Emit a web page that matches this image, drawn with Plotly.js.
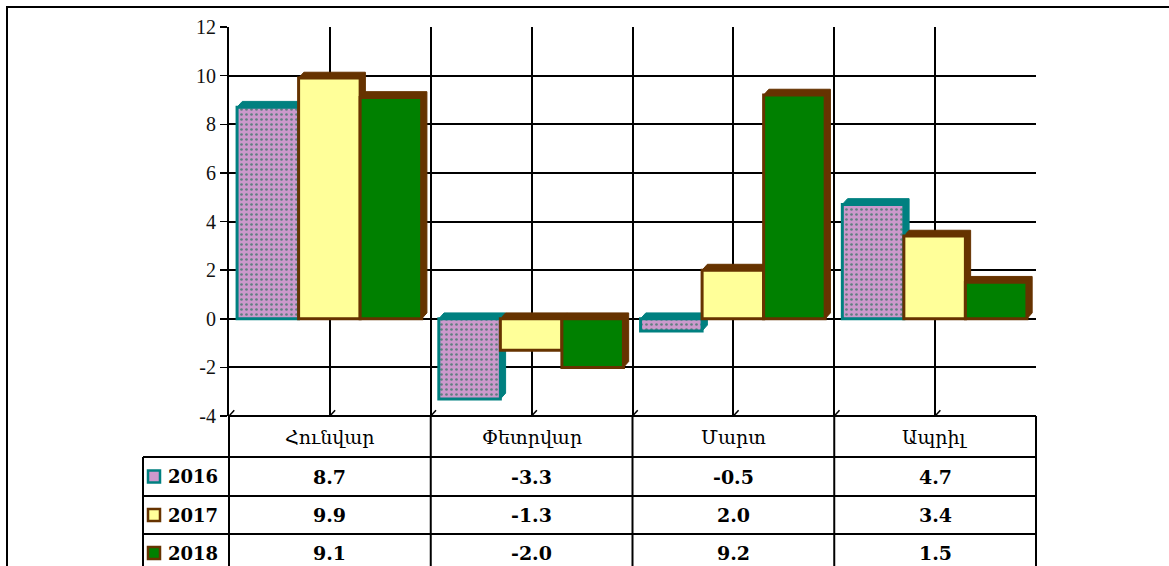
<!DOCTYPE html>
<html>
<head>
<meta charset="utf-8">
<script src="https://cdn.plot.ly/plotly-3.0.1.min.js"></script>
<style>html,body{margin:0;padding:0;background:#fff;}#chart{width:1169px;height:566px;}</style>
</head>
<body>
<div id="chart"></div>
<script>
// ---- data ----
const categories = ["Հունվար", "Փետրվար", "Մարտ", "Ապրիլ"];
const seriesNames = ["2016", "2017", "2018"];
const values2016 = [8.7, -3.3, -0.5, 4.7];
const values2017 = [9.9, -1.3, 2.0, 3.4];
const values2018 = [9.1, -2.0, 9.2, 1.5];
const yTickVals = [-4, -2, 0, 2, 4, 6, 8, 10, 12];
const yTickText = ["-4", "-2", "0", "2", "4", "6", "8", "10", "12"];

// ---- styling / layout ----
const W = 1169, H = 566;
const ML = 229, MR = 133, MT = 27, MB = 150;
const PW = W - ML - MR, PH = H - MT - MB;
const px = (x) => (x - ML) / PW;
const py = (y) => (MT + PH - y) / PH;

const fills = ["#CC99CC", "#FFFF99", "#008000"];
const borders = ["#008080", "#663300", "#663300"];
const allValues = [values2016, values2017, values2018];
const barWidth = 0.305;
const offsets = [-0.46, -0.155, 0.15];
const dx = 0.026, dy = 0.24;
const xs = categories.map((c, i) => i + 0.5);

const traces = [];
// depth faces (drawn beneath front faces)
allValues.forEach((vals, s) => {
  const X = [], Y = [];
  vals.forEach((v, i) => {
    const x0 = xs[i] + offsets[s], x1 = x0 + barWidth;
    const yt = Math.max(v, 0), yb = Math.min(v, 0);
    X.push(x0, x0 + dx, x1 + dx, x1 + dx, x1, x0, x0, null);
    Y.push(yt, yt + dy, yt + dy, yb + dy, yb, yb, yt, null);
  });
  traces.push({
    type: "scatter", mode: "lines", x: X, y: Y, xaxis: "x", yaxis: "y",
    fill: "toself", fillcolor: borders[s],
    line: {color: borders[s], width: 1}, hoverinfo: "skip", showlegend: false
  });
});
// front faces
allValues.forEach((vals, s) => {
  const marker = {color: fills[s], line: {color: borders[s], width: 3}};
  if (s === 0) {
    marker.pattern = {shape: ".", bgcolor: "#CC99CC", fgcolor: "#5F7F80", size: 5, solidity: 0.22, fillmode: "replace"};
  }
  traces.push({
    type: "bar", name: seriesNames[s], x: xs, y: vals, xaxis: "x", yaxis: "y2",
    width: barWidth, offset: offsets[s], marker: marker, showlegend: false
  });
});

const shapes = [];
const annotations = [];
const lineCol = "#000";
// outer frame
shapes.push({type: "rect", xref: "paper", yref: "paper", x0: px(7), x1: px(1200), y0: py(7), y1: py(620),
  line: {color: "#000", width: 2}, fillcolor: "rgba(0,0,0,0)", layer: "above"});
// small floor slashes at gridline bottoms
for (let k = 0; k <= 8; k++) {
  shapes.push({type: "line", xref: "x", yref: "y", x0: k * 0.5, y0: -4, x1: k * 0.5 + dx, y1: -4 + dy,
    line: {color: "#000", width: 1.5}});
}
// table lines
const rowLines = [457, 496, 534];
rowLines.forEach(y => shapes.push({type: "line", xref: "paper", yref: "paper", x0: px(143), x1: 1, y0: py(y), y1: py(y), line: {color: lineCol, width: 2}}));
shapes.push({type: "line", xref: "paper", yref: "paper", x0: 0, x1: 1, y0: 0, y1: 0, line: {color: lineCol, width: 2}});
shapes.push({type: "line", xref: "paper", yref: "paper", x0: px(143), x1: px(143), y0: py(457), y1: py(600), line: {color: lineCol, width: 2}});
for (let i = 0; i <= categories.length; i++) {
  shapes.push({type: "line", xref: "paper", yref: "paper", x0: i / categories.length, x1: i / categories.length, y0: 0, y1: py(600), line: {color: lineCol, width: 2}});
}
// header labels
categories.forEach((c, i) => annotations.push({xref: "x", yref: "paper", x: xs[i], y: py(437), text: c, showarrow: false,
  font: {family: "DejaVu Serif, serif", size: 19, color: "#000"}, xanchor: "center", yanchor: "middle"}));
const rowCenters = [476.5, 515, 553];
allValues.forEach((vals, s) => {
  const yc = py(rowCenters[s]);
  // legend key
  shapes.push({type: "rect", xref: "paper", yref: "paper", x0: px(148), x1: px(160), y0: yc - 6 / PH, y1: yc + 6 / PH,
    fillcolor: fills[s], line: {color: borders[s], width: 2.5}});
  annotations.push({xref: "paper", yref: "paper", x: px(166), y: yc, text: seriesNames[s], showarrow: false,
    font: {family: "DejaVu Serif, serif", size: 18, color: "#000", weight: "bold"}, xanchor: "left", yanchor: "middle"});
  vals.forEach((v, i) => annotations.push({xref: "x", yref: "paper", x: xs[i], y: yc, text: v.toFixed(1), showarrow: false,
    font: {family: "DejaVu Serif, serif", size: 19, color: "#000", weight: "bold"}, xanchor: "center", yanchor: "middle"}));
});

const layout = {
  width: W, height: H,
  margin: {l: ML, r: MR, t: MT, b: MB, pad: 0},
  paper_bgcolor: "#fff", plot_bgcolor: "#fff",
  barmode: "overlay",
  showlegend: false,
  xaxis: {range: [0, 4], tick0: 0, dtick: 0.5, showticklabels: false, ticks: "",
    showgrid: true, gridcolor: "#000", gridwidth: 2, zeroline: false, showline: false, fixedrange: true},
  yaxis: {range: [-4, 12], tickvals: yTickVals, ticktext: yTickText, ticks: "outside", ticklen: 7, tickwidth: 1.5, tickcolor: "#000",
    showgrid: true, gridcolor: "#000", gridwidth: 2, zeroline: false, showline: true, linecolor: "#000", linewidth: 2,
    tickfont: {family: "Liberation Serif, Times New Roman, serif", size: 20, color: "#111"}, fixedrange: true},
  yaxis2: {range: [-4, 12], overlaying: "y", visible: false, fixedrange: true},
  shapes: shapes,
  annotations: annotations
};

Plotly.newPlot("chart", traces, layout, {displayModeBar: false, staticPlot: true});
</script>
</body>
</html>
